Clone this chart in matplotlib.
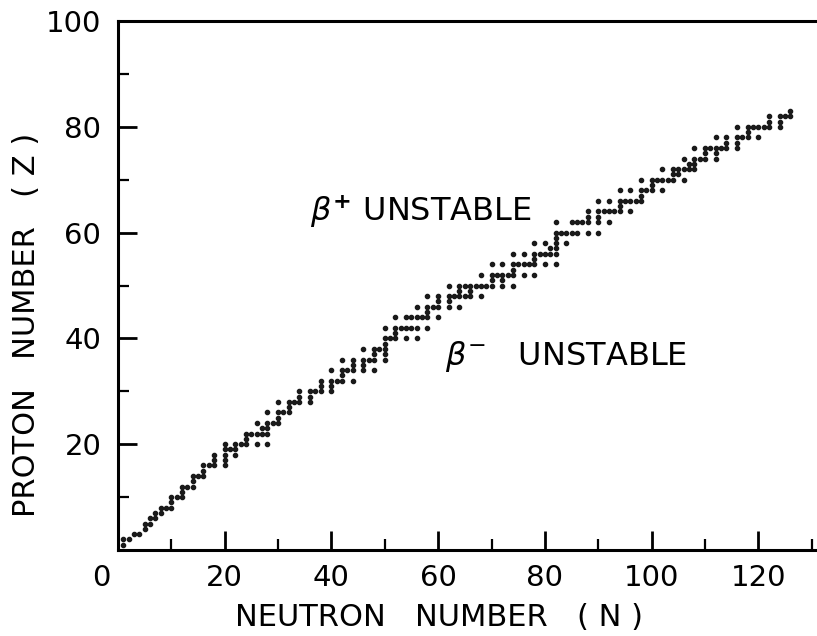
import matplotlib
matplotlib.use("Agg")
import matplotlib.pyplot as plt
import matplotlib.transforms as mtransforms

# stable nuclides: neutron number N and proton number Z, one line per element
neutron_number = [
    1,                                  # H
    1, 2,                               # He
    3, 4,                               # Li
    5,                                  # Be
    5, 6,                               # B
    6, 7,                               # C
    7, 8,                               # N
    8, 9, 10,                           # O
    10,                                 # F
    10, 11, 12,                         # Ne
    12,                                 # Na
    12, 13, 14,                         # Mg
    14,                                 # Al
    14, 15, 16,                         # Si
    16,                                 # P
    16, 17, 18, 20,                     # S
    18, 20,                             # Cl
    18, 20, 22,                         # Ar
    20, 21, 22,                         # K
    20, 22, 23, 24, 26, 28,             # Ca
    24,                                 # Sc
    24, 25, 26, 27, 28,                 # Ti
    27, 28,                             # V
    26, 28, 29, 30,                     # Cr
    30,                                 # Mn
    28, 30, 31, 32,                     # Fe
    32,                                 # Co
    30, 32, 33, 34, 36,                 # Ni
    34, 36,                             # Cu
    34, 36, 37, 38, 40,                 # Zn
    38, 40,                             # Ga
    38, 40, 41, 42, 44,                 # Ge
    42,                                 # As
    40, 42, 43, 44, 46, 48,             # Se
    44, 46,                             # Br
    42, 44, 46, 47, 48, 50,             # Kr
    48, 50,                             # Rb
    46, 48, 49, 50,                     # Sr
    50,                                 # Y
    50, 51, 52, 54, 56,                 # Zr
    52,                                 # Nb
    50, 52, 53, 54, 55, 56, 58,         # Mo
    52, 54, 55, 56, 57, 58, 60,         # Ru
    58,                                 # Rh
    56, 58, 59, 60, 62, 64,             # Pd
    60, 62,                             # Ag
    58, 60, 62, 63, 64, 65, 66, 68,     # Cd
    64, 66,                             # In
    62, 64, 65, 66, 67, 68, 69, 70, 72, 74,  # Sn
    70, 72,                             # Sb
    68, 70, 71, 72, 73, 74, 76, 78,     # Te
    74,                                 # I
    70, 72, 74, 75, 76, 77, 78, 80, 82, # Xe
    78,                                 # Cs
    74, 76, 78, 79, 80, 81, 82,         # Ba
    81, 82,                             # La
    78, 80, 82, 84,                     # Ce
    82,                                 # Pr
    82, 83, 84, 85, 86, 88, 90,         # Nd
    82, 85, 86, 87, 88, 90, 92,         # Sm
    88, 90,                             # Eu
    88, 90, 91, 92, 93, 94, 96,         # Gd
    94,                                 # Tb
    90, 92, 94, 95, 96, 97, 98,         # Dy
    98,                                 # Ho
    94, 96, 98, 99, 100, 102,           # Er
    100,                                # Tm
    98, 100, 101, 102, 103, 104, 106,   # Yb
    104, 105,                           # Lu
    102, 104, 105, 106, 107, 108,       # Hf
    107, 108,                           # Ta
    106, 108, 109, 110, 112,            # W
    110, 112,                           # Re
    108, 110, 111, 112, 113, 114, 116,  # Os
    114, 116,                           # Ir
    112, 114, 116, 117, 118, 120,       # Pt
    118,                                # Au
    116, 118, 119, 120, 121, 122, 124,  # Hg
    122, 124,                           # Tl
    122, 124, 125, 126,                 # Pb
    126,                                # Bi
]
proton_number = (
    [1] + [2] * 2 + [3] * 2 + [4] + [5] * 2 + [6] * 2 + [7] * 2 + [8] * 3 + [9]
    + [10] * 3 + [11] + [12] * 3 + [13] + [14] * 3 + [15] + [16] * 4 + [17] * 2
    + [18] * 3 + [19] * 3 + [20] * 6 + [21] + [22] * 5 + [23] * 2 + [24] * 4
    + [25] + [26] * 4 + [27] + [28] * 5 + [29] * 2 + [30] * 5 + [31] * 2
    + [32] * 5 + [33] + [34] * 6 + [35] * 2 + [36] * 6 + [37] * 2 + [38] * 4
    + [39] + [40] * 5 + [41] + [42] * 7 + [44] * 7 + [45] + [46] * 6 + [47] * 2
    + [48] * 8 + [49] * 2 + [50] * 10 + [51] * 2 + [52] * 8 + [53] + [54] * 9
    + [55] + [56] * 7 + [57] * 2 + [58] * 4 + [59] + [60] * 7 + [62] * 7
    + [63] * 2 + [64] * 7 + [65] + [66] * 7 + [67] + [68] * 6 + [69] + [70] * 7
    + [71] * 2 + [72] * 6 + [73] * 2 + [74] * 5 + [75] * 2 + [76] * 7 + [77] * 2
    + [78] * 6 + [79] + [80] * 7 + [81] * 2 + [82] * 4 + [83]
)

x_ticks = [0, 20, 40, 60, 80, 100, 120]
y_ticks = [20, 40, 60, 80, 100]

tick_size = 21
label_size = 22
note_size = 23
plt.rcParams['font.family'] = 'DejaVu Sans'
plt.rcParams['mathtext.fontset'] = 'dejavusans'

fig = plt.figure(figsize=(8.17, 6.36), dpi=100)
ax = fig.add_axes([118 / 817, 86 / 636, 699 / 817, 529 / 636])

ax.plot(neutron_number, proton_number, linestyle='none', marker='o',
        markersize=3, color='#1a1a1a')

ax.set_xlim(0, 131)
ax.set_ylim(0, 100)
ax.set_xticks(x_ticks)
ax.set_yticks(y_ticks)
ax.set_xticks(range(10, 131, 20), minor=True)
ax.set_yticks(range(10, 100, 20), minor=True)
ax.tick_params(which='major', direction='in', length=14, width=2,
               labelsize=tick_size, pad=10)
ax.tick_params(axis='y', which='major', pad=12)
ax.tick_params(which='minor', direction='in', length=8, width=1.6)

for s in ['left', 'bottom', 'top']:
    ax.spines[s].set_linewidth(2.2)
ax.spines['right'].set_visible(False)

# the zero label sits a bit left of the corner
lab0 = ax.get_xticklabels()[0]
lab0.set_transform(lab0.get_transform() + mtransforms.ScaledTranslation(-0.17, 0, fig.dpi_scale_trans))

fig.text(439 / 817, 1 - 618 / 636, "NEUTRON   NUMBER   ( N )", fontsize=label_size,
         ha='center', va='center')
fig.text(27 / 817, 1 - 325 / 636, "PROTON   NUMBER   ( Z )", fontsize=label_size,
         ha='center', va='center', rotation=90)

ax.text(36, 64, r"$\beta^{\mathbf{+}}$ UNSTABLE", fontsize=note_size, va='center')
ax.text(61.3, 36.5, r"$\beta^{-}$   UNSTABLE", fontsize=note_size, va='center')

fig.savefig("out.png", dpi=100)
